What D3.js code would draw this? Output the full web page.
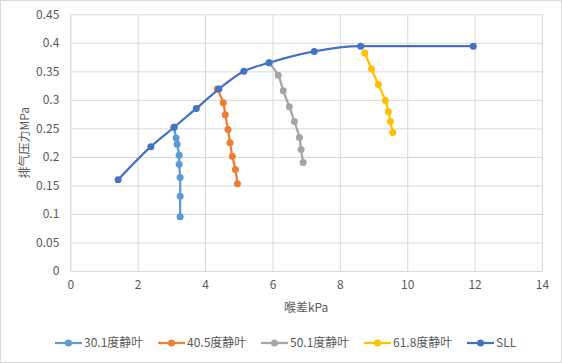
<!DOCTYPE html>
<html>
<head>
<meta charset="utf-8">
<script src="https://cdn.jsdelivr.net/npm/d3@7"></script>
<style>
  body { margin: 0; background: #fff; }
  text { font-family: "Noto Sans CJK SC", "Open Sans", sans-serif; }
</style>
</head>
<body>
<div id="chart"></div>
<script>
// series data
var seriesNames = ["30.1度静叶", "40.5度静叶", "50.1度静叶", "61.8度静叶", "SLL"];
var seriesColors = ["#5B9BD5", "#ED7D31", "#A5A5A5", "#FFC000", "#4472C4"];

var x301 = [3.08, 3.14, 3.17, 3.23, 3.23, 3.26, 3.26, 3.26];
var y301 = [0.252, 0.233, 0.222, 0.203, 0.187, 0.164, 0.131, 0.095];

var x405 = [4.36, 4.54, 4.60, 4.68, 4.74, 4.81, 4.90, 4.96];
var y405 = [0.319, 0.295, 0.274, 0.248, 0.225, 0.201, 0.178, 0.153];

var x501 = [5.90, 6.17, 6.32, 6.50, 6.65, 6.80, 6.85, 6.91];
var y501 = [0.365, 0.343, 0.316, 0.288, 0.262, 0.234, 0.213, 0.190];

var x618 = [8.74, 8.94, 9.14, 9.35, 9.44, 9.50, 9.57];
var y618 = [0.382, 0.354, 0.327, 0.299, 0.279, 0.262, 0.243];

var xSLL = [1.42, 2.39, 3.08, 3.74, 4.41, 5.15, 5.90, 7.24, 8.62, 11.96];
var ySLL = [0.160, 0.218, 0.252, 0.285, 0.319, 0.350, 0.365, 0.385, 0.394, 0.394];

var xTicks = [0, 2, 4, 6, 8, 10, 12, 14];
var yTicks = [0, 0.05, 0.1, 0.15, 0.2, 0.25, 0.3, 0.35, 0.4, 0.45];

var xTitle = "喉差kPa";
var yTitle = "排气压力MPa";

var seriesData = [[x301, y301], [x405, y405], [x501, y501], [x618, y618], [xSLL, ySLL]];

var W = 562, H = 363;
var margin = {top: 14.3, right: 20, bottom: 92, left: 70.3},
    width = W - margin.left - margin.right,
    height = H - margin.top - margin.bottom;

var root = d3.select("#chart")
    .append("svg")
    .attr("width", W)
    .attr("height", H);

// chart area border
root.append("rect")
    .attr("x", 0.5).attr("y", 0.5)
    .attr("width", W - 1).attr("height", H - 1)
    .attr("fill", "#fff")
    .attr("stroke", "#D9D9D9");

var svg = root.append("g")
    .attr("transform", "translate(" + margin.left + "," + margin.top + ")");

var x = d3.scaleLinear().domain([0, 14]).range([0, width]);
var y = d3.scaleLinear().domain([0, 0.45]).range([height, 0]);

// gridlines
svg.append("g")
    .call(d3.axisLeft(y).tickValues(yTicks).tickSize(-width).tickFormat(""))
    .call(function(g) { g.select(".domain").remove(); })
    .selectAll("line").attr("stroke", "#D9D9D9");

svg.append("g")
    .attr("transform", "translate(0," + height + ")")
    .call(d3.axisBottom(x).tickValues(xTicks).tickSize(-height).tickFormat(""))
    .call(function(g) { g.select(".domain").attr("stroke", "#D9D9D9"); })
    .selectAll("line").attr("stroke", "#D9D9D9");

// tick labels
svg.append("g")
    .call(d3.axisLeft(y).tickValues(yTicks).tickSize(0).tickPadding(11)
        .tickFormat(function(d) { return d3.format("")(+d.toFixed(2)); }))
    .call(function(g) { g.select(".domain").remove(); })
    .selectAll("text")
    .attr("fill", "#595959")
    .style("font-size", "12px");

svg.append("g")
    .attr("transform", "translate(0," + height + ")")
    .call(d3.axisBottom(x).tickValues(xTicks).tickSize(0).tickPadding(9))
    .call(function(g) { g.select(".domain").remove(); })
    .selectAll("text")
    .attr("fill", "#595959")
    .style("font-size", "12px");

// axis titles
root.append("text")
    .attr("x", margin.left + width / 2)
    .attr("y", 312)
    .attr("text-anchor", "middle")
    .attr("fill", "#595959")
    .style("font-size", "12px")
    .text(xTitle);

root.append("text")
    .attr("transform", "translate(29," + (margin.top + height / 2) + ") rotate(-90)")
    .attr("text-anchor", "middle")
    .attr("fill", "#595959")
    .style("font-size", "12px")
    .text(yTitle);

// lines + markers
function makeLine(curve) {
    return d3.line()
        .x(function(d) { return x(d[0]); })
        .y(function(d) { return y(d[1]); })
        .curve(curve);
}

seriesData.forEach(function(s, i) {
    var pts = s[0].map(function(v, j) { return [v, s[1][j]]; });
    var curve = i === 4 ? d3.curveMonotoneX : d3.curveCatmullRom.alpha(0.5);
    var g = svg.append("g");
    g.append("path")
        .datum(pts)
        .attr("fill", "none")
        .attr("stroke", seriesColors[i])
        .attr("stroke-width", 2.25)
        .attr("d", makeLine(curve));
    g.selectAll("circle")
        .data(pts)
        .enter().append("circle")
        .attr("cx", function(d) { return x(d[0]); })
        .attr("cy", function(d) { return y(d[1]); })
        .attr("r", 3.5)
        .attr("fill", seriesColors[i]);
});

// legend
var legend = root.append("g").attr("transform", "translate(55,343)");
seriesNames.forEach(function(name, i) {
    var item = legend.append("g").attr("transform", "translate(" + (i * 103) + ",0)");
    item.append("line")
        .attr("x1", 0).attr("x2", 27)
        .attr("y1", 0).attr("y2", 0)
        .attr("stroke", seriesColors[i])
        .attr("stroke-width", 2.25);
    item.append("circle")
        .attr("cx", 13.5).attr("cy", 0).attr("r", 3.5)
        .attr("fill", seriesColors[i]);
    item.append("text")
        .attr("x", 29).attr("y", 0)
        .attr("dy", "0.35em")
        .attr("fill", "#595959")
        .style("font-size", "12px")
        .text(name);
});
</script>
</body>
</html>
